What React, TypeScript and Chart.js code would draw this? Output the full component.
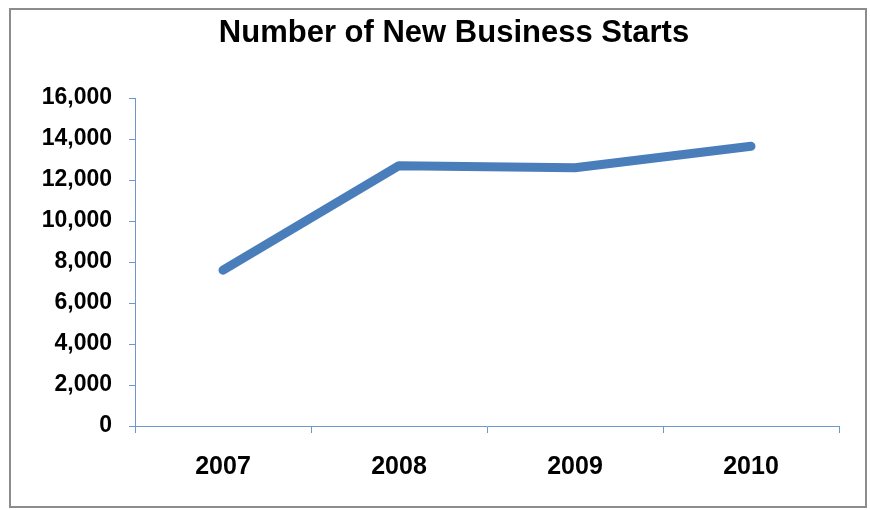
import React, { useEffect, useRef } from "react";
import { Chart, registerables } from "chart.js";

Chart.register(...registerables);

const TITLE = "Number of New Business Starts";
const YEARS = ["2007", "2008", "2009", "2010"];
const STARTS = [7600, 12700, 12600, 13650];
const Y_MIN = 0;
const Y_MAX = 16000;
const Y_STEP = 2000;

const AXIS_COLOR = "#6E98CB";
const LINE_COLOR = "#4A7EBB";
const FONT = "'Liberation Sans', Arial, sans-serif";

const framePlugin = {
  id: "frame",
  afterDraw(chart: any) {
    const ctx = chart.ctx;
    ctx.save();
    ctx.strokeStyle = "#8C8C8C";
    ctx.lineWidth = 2;
    ctx.strokeRect(10, 9, 856, 498);
    ctx.fillStyle = "#000";
    ctx.font = `bold 31px ${FONT}`;
    ctx.textAlign = "center";
    ctx.textBaseline = "alphabetic";
    ctx.fillText(TITLE, 454, 42);
    ctx.restore();
  },
};

export default function App() {
  const ref = useRef<HTMLCanvasElement | null>(null);
  useEffect(() => {
    if (!ref.current) return;
    const chart = new Chart(ref.current, {
      type: "line",
      data: {
        labels: YEARS,
        datasets: [
          {
            data: STARTS,
            borderColor: LINE_COLOR,
            backgroundColor: LINE_COLOR,
            borderWidth: 9,
            borderCapStyle: "round",
            borderJoinStyle: "round",
            pointRadius: 0,
            tension: 0,
          },
        ],
      },
      options: {
        animation: false,
        responsive: false,
        maintainAspectRatio: false,
        layout: { padding: { top: 98, right: 31, left: 0, bottom: 0 } },
        plugins: {
          legend: { display: false },
          title: { display: false },
          tooltip: { enabled: false },
        },
        scales: {
          x: {
            offset: true,
            grid: {
              offset: true,
              drawOnChartArea: false,
              drawTicks: true,
              tickLength: 7,
              tickColor: AXIS_COLOR,
              color: AXIS_COLOR,
            },
            border: { color: AXIS_COLOR, width: 1 },
            ticks: {
              color: "#000",
              font: { family: FONT, size: 25, weight: "bold" },
              padding: 19,
              maxRotation: 0,
            },
            afterFit(scale: any) {
              scale.height = 84;
            },
          },
          y: {
            min: Y_MIN,
            max: Y_MAX,
            ticks: {
              stepSize: Y_STEP,
              color: "#000",
              font: { family: FONT, size: 23, weight: "bold" },
              padding: 17,
            },
            grid: {
              drawOnChartArea: false,
              drawTicks: true,
              tickLength: 6,
              tickColor: AXIS_COLOR,
              color: AXIS_COLOR,
            },
            border: { color: AXIS_COLOR, width: 1 },
            afterFit(scale: any) {
              scale.width = 135;
            },
          },
        },
      },
      plugins: [framePlugin],
    });
    return () => chart.destroy();
  }, []);
  return (
    <div style={{ position: "absolute", left: 0, top: 0, width: 870, height: 510, background: "#fff" }}>
      <canvas ref={ref} width={870} height={510} style={{ display: "block" }} />
    </div>
  );
}
